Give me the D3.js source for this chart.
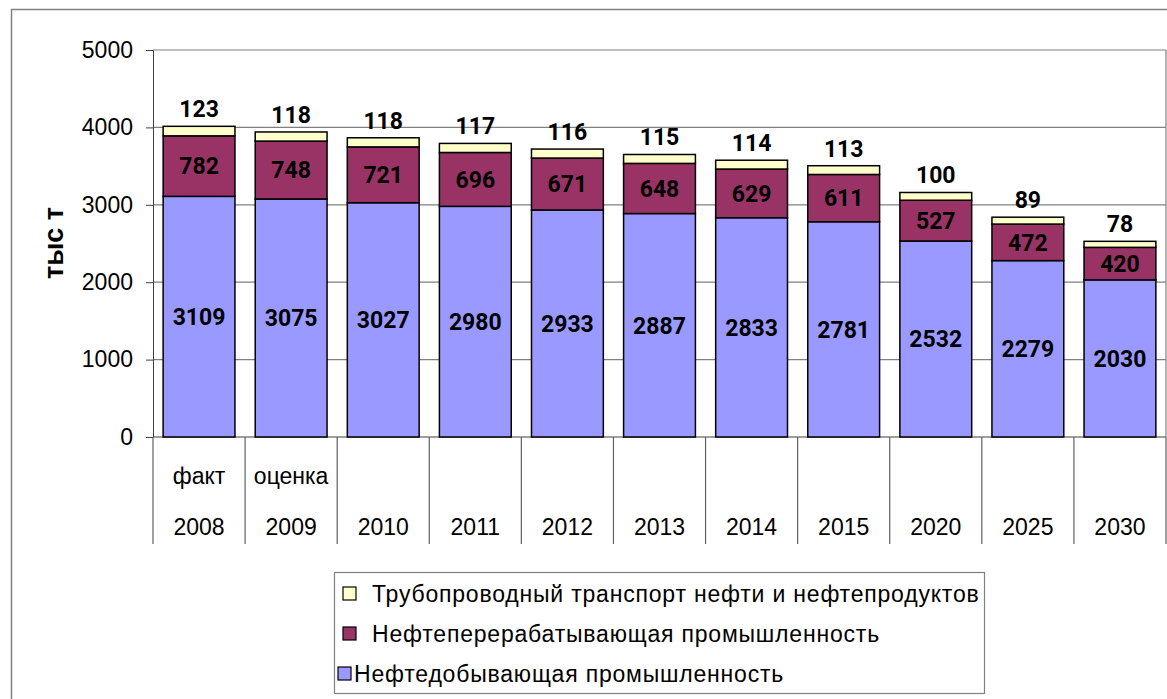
<!DOCTYPE html>
<html>
<head>
<meta charset="utf-8">
<script src="https://cdn.jsdelivr.net/npm/d3@7"></script>
<style>
  body { margin: 0; background: #fff; }
  svg { display: block; }
  .tick-label { font-family: "Liberation Sans", Arial, sans-serif; font-size: 23px; fill: #000; }
  .val { font-family: Roboto, "Liberation Sans", sans-serif; font-weight: bold; font-size: 23px; fill: #000; }
  .legend-text { font-family: "Liberation Sans", Arial, sans-serif; font-size: 23px; letter-spacing: 0.8px; fill: #000; }
</style>
</head>
<body>
<svg id="chart" width="1167" height="699"></svg>
<script>
// data
const years = ["2008", "2009", "2010", "2011", "2012", "2013", "2014", "2015", "2020", "2025", "2030"];
const notes = ["факт", "оценка", "", "", "", "", "", "", "", "", ""];
const extraction = [3109, 3075, 3027, 2980, 2933, 2887, 2833, 2781, 2532, 2279, 2030];
const refining = [782, 748, 721, 696, 671, 648, 629, 611, 527, 472, 420];
const pipeline = [123, 118, 118, 117, 116, 115, 114, 113, 100, 89, 78];
const yTicks = [0, 1000, 2000, 3000, 4000, 5000];
const seriesNames = [
  "Трубопроводный транспорт нефти и нефтепродуктов",
  "Нефтеперерабатывающая промышленность",
  "Нефтедобывающая промышленность"
];
const colors = { extraction: "#9999ff", refining: "#993366", pipeline: "#ffffcc" };

const svg = d3.select("#chart");

// outer frame
svg.append("rect")
  .attr("x", 11.5).attr("y", 9.5)
  .attr("width", 1200).attr("height", 750)
  .attr("fill", "none").attr("stroke", "#808080").attr("stroke-width", 1.5);

const plotL = 153, plotR = 1166, plotT = 50, plotB = 437;

const x = d3.scaleBand().domain(years).range([plotL, plotR]).paddingInner(0.22).paddingOuter(0.11);
const y = d3.scaleLinear().domain([0, 5000]).range([plotB, plotT]);

// gridlines
svg.append("g")
  .selectAll("line")
  .data(yTicks.filter(d => d > 0))
  .join("line")
  .attr("x1", plotL).attr("x2", plotR)
  .attr("y1", d => y(d)).attr("y2", d => y(d))
  .attr("stroke", "#808080").attr("stroke-width", 1.2);

// plot right border
svg.append("line")
  .attr("x1", plotR).attr("x2", plotR).attr("y1", plotT).attr("y2", plotB)
  .attr("stroke", "#808080").attr("stroke-width", 1.2);

// y axis
const yAxis = d3.axisLeft(y).tickValues(yTicks).tickFormat(d3.format("d")).tickSize(7).tickPadding(13);
const gy = svg.append("g").attr("transform", `translate(${plotL},0)`).call(yAxis);
gy.attr("font-size", null).attr("font-family", null);
gy.select(".domain").attr("stroke", "#404040");
gy.selectAll(".tick line").attr("stroke", "#404040");
gy.selectAll(".tick text").attr("class", "tick-label").attr("fill", null);

// y title
svg.append("text")
  .attr("transform", "translate(63,243) rotate(-90)")
  .attr("text-anchor", "middle")
  .attr("font-family", "Liberation Sans, Arial, sans-serif")
  .attr("font-weight", "bold")
  .attr("font-size", 27)
  .text("тыс т");

// category axis: baseline + separators
svg.append("line")
  .attr("x1", plotL).attr("x2", plotR).attr("y1", plotB).attr("y2", plotB)
  .attr("stroke", "#404040").attr("stroke-width", 1.2);

const step = x.step();
const bounds = years.map((d, i) => plotL + i * step).concat([plotR]);
svg.append("g")
  .selectAll("line")
  .data(bounds)
  .join("line")
  .attr("x1", d => d).attr("x2", d => d)
  .attr("y1", plotB).attr("y2", 544)
  .attr("stroke", "#606060").attr("stroke-width", 1.2);

svg.append("g")
  .selectAll("text")
  .data(years)
  .join("text")
  .attr("class", "tick-label")
  .attr("x", (d, i) => plotL + (i + 0.5) * step)
  .attr("y", 535)
  .attr("text-anchor", "middle")
  .text(d => d);

svg.append("g")
  .selectAll("text")
  .data(notes)
  .join("text")
  .attr("class", "tick-label")
  .attr("x", (d, i) => plotL + (i + 0.5) * step)
  .attr("y", 484)
  .attr("text-anchor", "middle")
  .text(d => d);

// stacked bars
const rows = years.map((yr, i) => ({
  year: yr,
  extraction: extraction[i],
  refining: refining[i],
  pipeline: pipeline[i]
}));
const stack = d3.stack().keys(["extraction", "refining", "pipeline"]);
const layers = stack(rows);

svg.append("g")
  .selectAll("g")
  .data(layers)
  .join("g")
  .attr("fill", d => colors[d.key])
  .selectAll("rect")
  .data(d => d)
  .join("rect")
  .attr("x", d => x(d.data.year))
  .attr("width", x.bandwidth())
  .attr("y", d => y(d[1]))
  .attr("height", d => y(d[0]) - y(d[1]))
  .attr("stroke", "#000")
  .attr("stroke-width", 1.5);

// value labels
const labels = svg.append("g");
layers.forEach(layer => {
  labels.append("g")
    .selectAll("text")
    .data(layer)
    .join("text")
    .attr("class", "val")
    .attr("text-anchor", "middle")
    .attr("x", d => x(d.data.year) + x.bandwidth() / 2)
    .attr("y", d => layer.key === "pipeline" ? y(d[1]) - 9 : (y(d[0]) + y(d[1])) / 2)
    .attr("dy", layer.key === "pipeline" ? 0 : "0.36em")
    .text(d => d.data[layer.key]);
});

// legend
const legend = svg.append("g");
legend.append("rect")
  .attr("x", 334.5).attr("y", 572.5).attr("width", 650).attr("height", 121)
  .attr("fill", "#fff").attr("stroke", "#808080").attr("stroke-width", 1.2);

const legendItems = [
  { name: seriesNames[0], color: colors.pipeline, sx: 343, tx: 372, cy: 594 },
  { name: seriesNames[1], color: colors.refining, sx: 343, tx: 372, cy: 634 },
  { name: seriesNames[2], color: colors.extraction, sx: 338, tx: 354, cy: 674 }
];
legendItems.forEach(it => {
  legend.append("rect")
    .attr("x", it.sx).attr("y", it.cy - 7).attr("width", 13).attr("height", 13)
    .attr("fill", it.color).attr("stroke", "#000").attr("stroke-width", 1.2);
  legend.append("text")
    .attr("class", "legend-text")
    .attr("x", it.tx).attr("y", it.cy).attr("dy", "0.36em")
    .text(it.name);
});
</script>
</body>
</html>
